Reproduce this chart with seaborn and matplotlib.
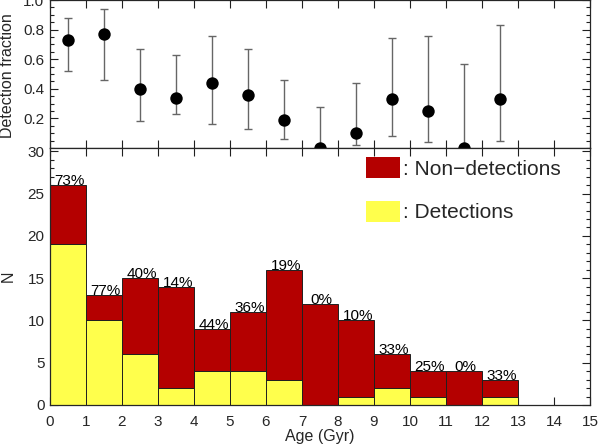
import numpy as np
import pandas as pd
import matplotlib
matplotlib.use("Agg")
import matplotlib.pyplot as plt
from matplotlib.patches import Patch
from matplotlib.ticker import MultipleLocator, FixedLocator
import seaborn as sns

# ---- data ----
bin_left = [0, 1, 2, 3, 4, 5, 6, 7, 8, 9, 10, 11, 12]
n_total = [26, 13, 15, 14, 9, 11, 16, 12, 10, 6, 4, 4, 3]
n_detected = [19, 10, 6, 2, 4, 4, 3, 0, 1, 2, 1, 0, 1]
frac = [0.73, 0.77, 0.40, 0.34, 0.44, 0.36, 0.19, 0.0, 0.10, 0.33, 0.25, 0.0, 0.33]
frac_lo = [0.52, 0.46, 0.18, 0.23, 0.16, 0.13, 0.06, 0.0, 0.02, 0.08, 0.04, 0.0, 0.05]
frac_hi = [0.88, 0.94, 0.67, 0.63, 0.76, 0.67, 0.46, 0.28, 0.44, 0.74, 0.76, 0.57, 0.83]
bin_edges = list(range(0, 14))

RED = "#B40000"
YELLOW = "#FFFF4C"

sns.set_theme(style="ticks")
plt.rcParams["font.family"] = ["Liberation Sans", "DejaVu Sans"]
plt.rcParams["axes.linewidth"] = 0.9
plt.rcParams["xtick.direction"] = "in"
plt.rcParams["ytick.direction"] = "in"

centers = np.array(bin_left) + 0.5
n_non = np.array(n_total) - np.array(n_detected)
df = pd.DataFrame({
    "age": np.concatenate([centers, centers]),
    "count": np.concatenate([n_detected, n_non]),
    "status": ["Detections"] * len(centers) + ["Non-detections"] * len(centers),
})

fig = plt.figure(figsize=(5.98, 4.48), dpi=100)
L, W = 50 / 598, 540 / 598
ax_top = fig.add_axes([L, 1 - 148 / 448, W, 148 / 448])
ax_bot = fig.add_axes([L, 1 - 405 / 448, W, (405 - 148) / 448])

# ---- bottom: stacked histogram ----
sns.histplot(data=df, x="age", weights="count", hue="status",
             hue_order=["Non-detections", "Detections"],
             palette={"Detections": YELLOW, "Non-detections": RED},
             bins=bin_edges, multiple="stack", alpha=1, legend=False,
             edgecolor="#202020", linewidth=0.7, ax=ax_bot)

for c, t, d in zip(centers, n_total, n_detected):
    ax_bot.text(c + 0.05, t, f"{round(100 * d / t)}%", ha="center", va="baseline",
                fontsize=11, color="black")

ax_bot.set_xlim(0, 15)
ax_bot.set_ylim(0, 30.4)
ax_bot.xaxis.set_major_locator(MultipleLocator(1))
ax_bot.yaxis.set_major_locator(MultipleLocator(5))
ax_bot.yaxis.set_minor_locator(MultipleLocator(1))
ax_bot.tick_params(which="both", top=True, right=True, labelsize=11, color="#202020")
ax_bot.tick_params(which="major", length=6, width=0.8, pad=4)
ax_bot.tick_params(axis="x", which="major", pad=7)
ax_bot.tick_params(which="minor", length=3, width=0.8)
ax_bot.set_xlabel("Age (Gyr)", fontsize=11.5, labelpad=0)
ax_bot.set_ylabel("N", fontsize=11.5)
ax_bot.yaxis.set_label_coords(-0.064, 0.5)

handles = [Patch(facecolor=RED, edgecolor="none"), Patch(facecolor=YELLOW, edgecolor="none")]
ax_bot.legend(handles, [": Non\u2212detections", ": Detections"], loc="upper left",
              bbox_to_anchor=(0.585, 0.965), frameon=False, fontsize=15,
              handlelength=1.65, handleheight=1.2, handletextpad=0.15,
              labelspacing=1.05, borderpad=0, borderaxespad=0)

# ---- top: detection fraction ----
yerr = [np.array(frac) - np.array(frac_lo), np.array(frac_hi) - np.array(frac)]
ax_top.errorbar(centers, frac, yerr=yerr, fmt="none", ecolor="#666666",
                elinewidth=1.0, capsize=3, capthick=1.0, zorder=2)
sns.scatterplot(x=centers, y=frac, color="black", s=80, edgecolor="black",
                linewidth=0, ax=ax_top, zorder=3, legend=False)
ax_top.set_xlim(0, 15)
ax_top.set_ylim(0, 1.0)
ax_top.xaxis.set_major_locator(MultipleLocator(1))
ax_top.yaxis.set_major_locator(FixedLocator([0.2, 0.4, 0.6, 0.8, 1.0]))
ax_top.yaxis.set_minor_locator(MultipleLocator(0.05))
ax_top.tick_params(which="both", top=True, right=True, labelsize=11, labelbottom=False,
                   color="#202020")
ax_top.tick_params(which="major", length=6, width=0.8, pad=4)
ax_top.tick_params(which="minor", length=3, width=0.8)
ax_top.set_ylabel("Detection fraction", fontsize=11.5)
ax_top.yaxis.set_label_coords(-0.064, 0.49)

fig.savefig("out.png", dpi=100)
